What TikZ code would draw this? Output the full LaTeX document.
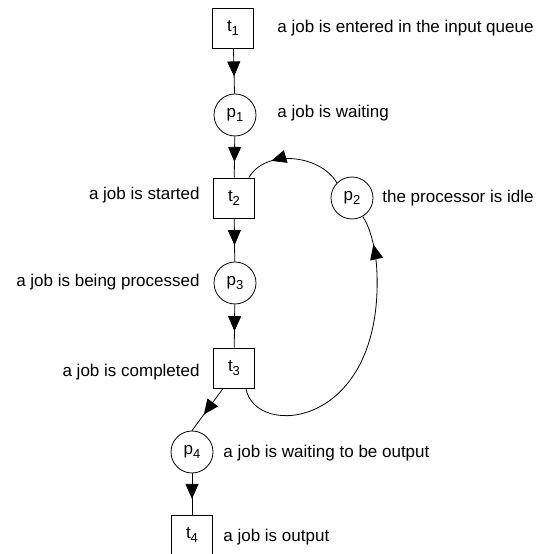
\documentclass[tikz,border=0pt]{standalone}
\usepackage{fontspec}
\setmainfont{Liberation Sans}
\usetikzlibrary{arrows.meta,decorations.markings}
\newcommand{\ix}[1]{\raisebox{-4pt}{\fontsize{13}{13}\selectfont #1}}
\tikzset{
  trans/.style={draw, minimum width=41pt, minimum height=40pt, inner sep=0pt},
  place/.style={draw, circle, minimum size=42pt, inner sep=0pt},
  flow/.style={postaction={decorate}, decoration={markings,
      mark=at position #1 with {\arrow{Triangle[length=15pt,width=13pt]}}}},
  flow/.default=0.62,
  lbl/.style={inner sep=0pt}
}
\begin{document}
\begin{tikzpicture}[x=1pt, y=1pt, line width=0.8pt,
                    font=\fontsize{17}{20}\selectfont]
   \useasboundingbox (0,0) rectangle (539,554);
   % places and transitions
   \node[trans] (t1) at (233,526) {t\ix{1}};
   \node[place] (p1) at (235,439) {p\ix{1}};
   \node[trans] (t2) at (234,356) {t\ix{2}};
   \node[place] (p2) at (352,356) {p\ix{2}};
   \node[place] (p3) at (235,271) {p\ix{3}};
   \node[trans] (t3) at (234,186) {t\ix{3}};
   \node[place] (p4) at (192,102) {p\ix{4}};
   \node[trans] (t4) at (192,19)  {t\ix{4}};
   % texts
   \node[lbl,anchor=west] (l1) at (277,526) {a job is entered in the input queue};
   \node[lbl,anchor=west] (l2) at (277,441) {a job is waiting};
   \node[lbl,anchor=east] (l3) at (200,359) {a job is started};
   \node[lbl,anchor=west] (l4) at (382,356) {the processor is idle};
   \node[lbl,anchor=east] (l5) at (200,272) {a job is being processed};
   \node[lbl,anchor=east] (l6) at (200,182) {a job is completed};
   \node[lbl,anchor=west] (l7) at (223,101) {a job is waiting to be output};
   \node[lbl,anchor=west] (l8) at (223,17)  {a job is output};
   % arcs
   \draw[flow] (t1) -- (p1);
   \draw[flow] (p1) -- (t2);
   \draw[flow] (t2) -- (p3);
   \draw[flow] (p3) -- (t3);
   \draw[flow] ([xshift=10pt]t3.south west) -- (p4.north);
   \draw[flow] (p4) -- (t4);
   \draw[flow=0.72] (p2.135) .. controls (320,400) and (265,405) .. ([xshift=-6pt]t2.north east);
   \draw[flow=0.9] ([xshift=-9pt]t3.south east) .. controls (255,115) and (382,125) .. (377,280)
                   .. controls (376,310) and (368,330) .. (p2.-60);
\end{tikzpicture}
\end{document}
